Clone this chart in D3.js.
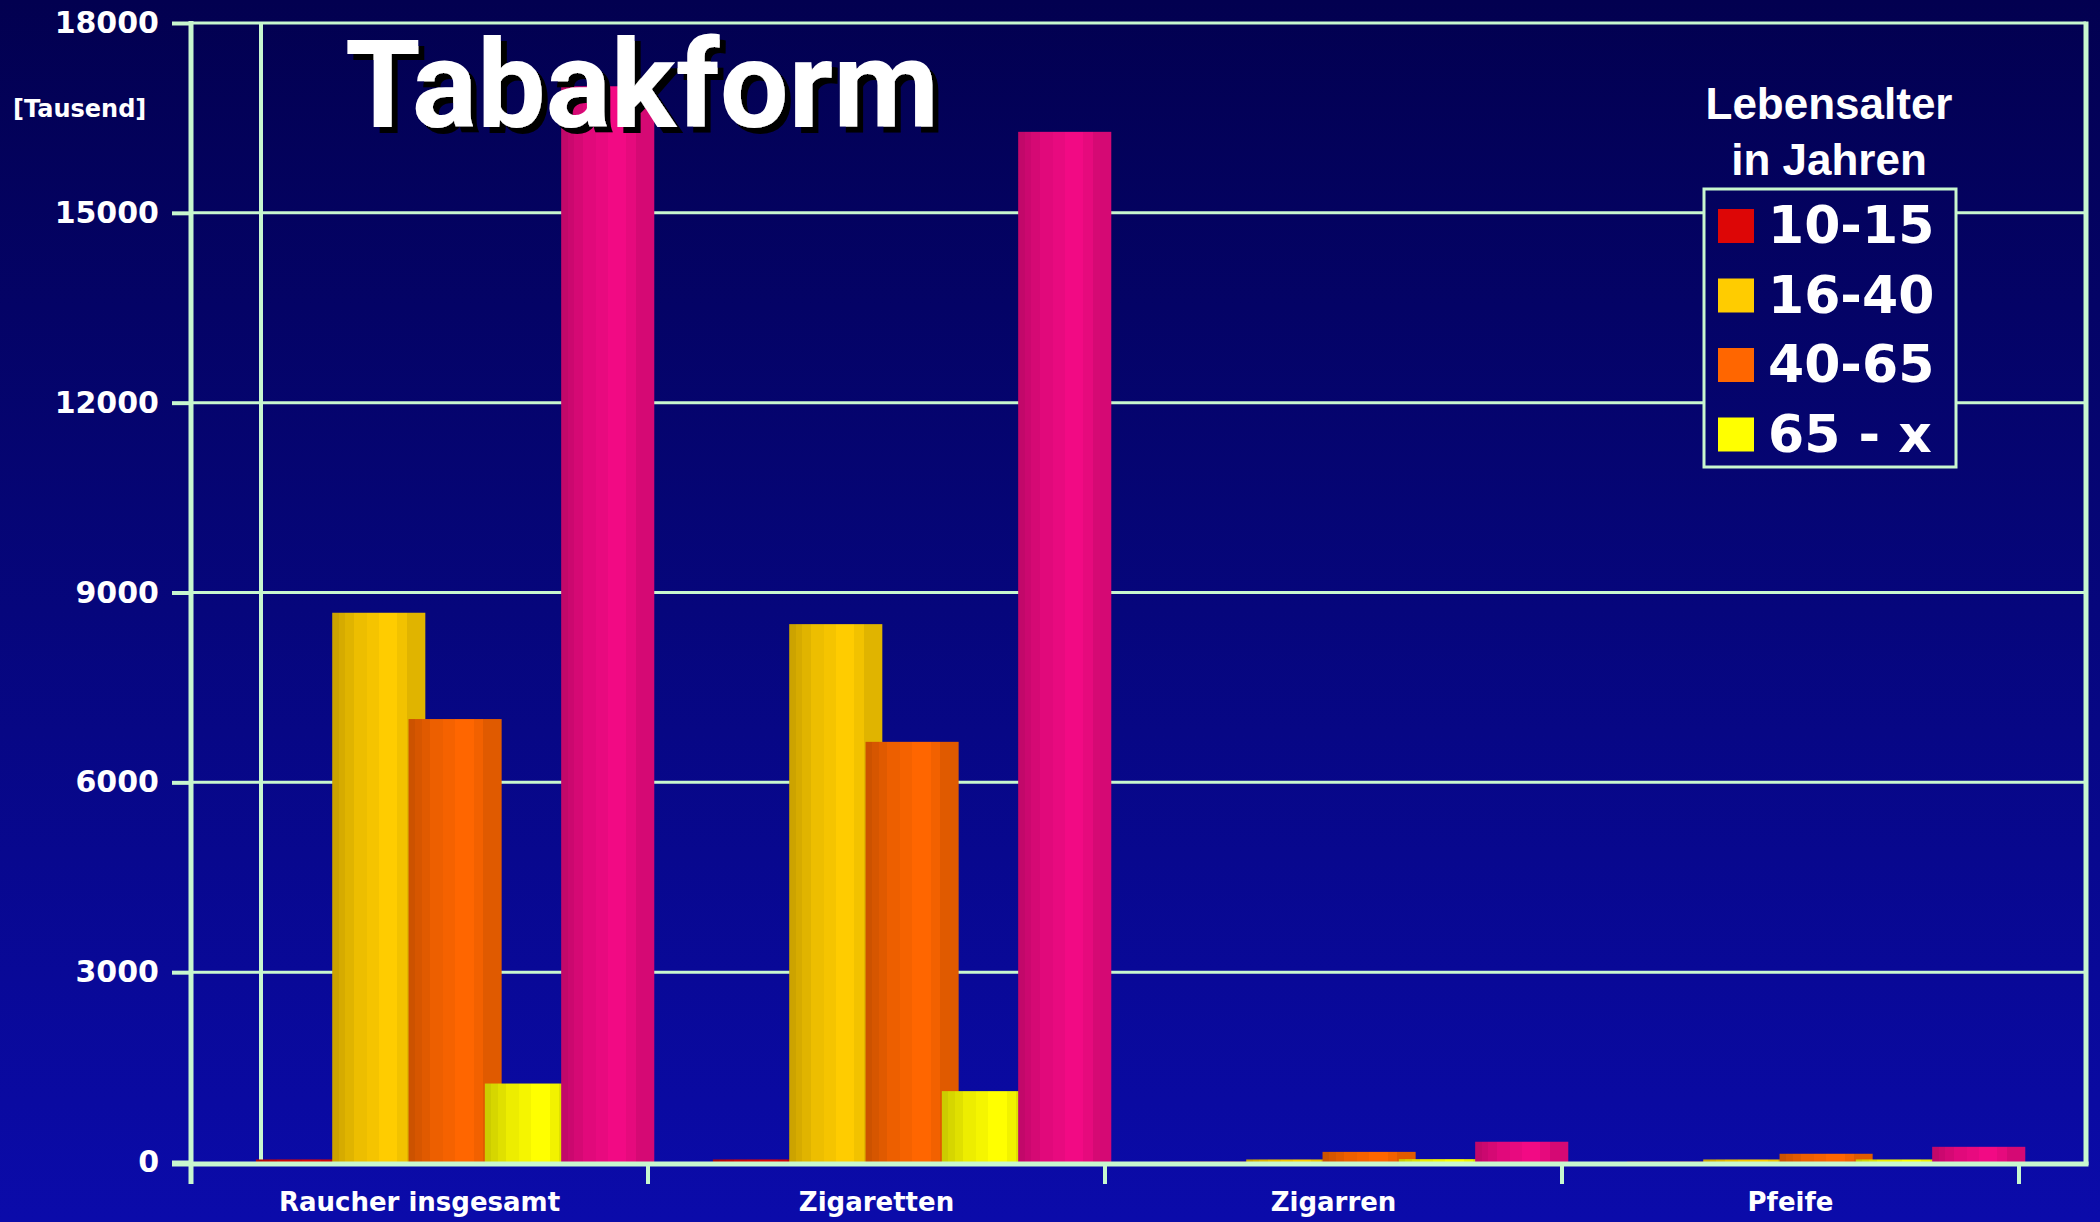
<!DOCTYPE html>
<html>
<head>
<meta charset="utf-8">
<script src="https://cdn.jsdelivr.net/npm/d3@7"></script>
<style>
  body { margin: 0; background: #020050; }
  svg { display: block; }
</style>
</head>
<body>
<svg></svg>
<script>
// Tabakform - Raucher nach Lebensalter [Tausend]
var categories = ["Raucher insgesamt", "Zigaretten", "Zigarren", "Pfeife"];
var seriesNames = ["10-15", "16-40", "40-65", "65 - x", "gesamt"];
var v_10_15  = [40, 40, 5, 5];
var v_16_40  = [8680, 8500, 40, 40];
var v_40_65  = [7000, 6640, 160, 130];
var v_65_x   = [1240, 1120, 45, 40];
var v_gesamt = [17000, 16280, 320, 240];
var seriesColors = ["#dd0606", "#ffcc00", "#ff6600", "#ffff00", "#f20a84"];
var legendNames = ["10-15", "16-40", "40-65", "65 - x"];
var yTicks = [0, 3000, 6000, 9000, 12000, 15000, 18000];

var series = [v_10_15, v_16_40, v_40_65, v_65_x, v_gesamt];

var width = 2100,
    height = 1222;

var lineCol = "#c8f7cf";

var svg = d3.select("svg")
    .attr("width", width)
    .attr("height", height);

var defs = svg.append("defs");

// background gradient, also reused for the legend box
var bg = defs.append("linearGradient")
    .attr("id", "bg")
    .attr("gradientUnits", "userSpaceOnUse")
    .attr("x1", 0).attr("y1", 0).attr("x2", 0).attr("y2", height);
bg.append("stop").attr("offset", 0).attr("stop-color", "#020050");
bg.append("stop").attr("offset", 0.5).attr("stop-color", "#06067c");
bg.append("stop").attr("offset", 1).attr("stop-color", "#0b0baa");

// drop shadow for the title
defs.append("filter")
    .attr("id", "shadow")
    .attr("x", "-10%").attr("y", "-10%").attr("width", "130%").attr("height", "130%")
  .append("feDropShadow")
    .attr("dx", 6).attr("dy", 6)
    .attr("stdDeviation", 0)
    .attr("flood-color", "#000")
    .attr("flood-opacity", 1);

// cylinder shading, banded like the original
var bands = [[0, .07, .80], [.07, .14, .84], [.14, .23, .88], [.23, .37, .93],
             [.37, .5, .96], [.5, .7, 1], [.7, .8, .95], [.8, 1, .88]];
seriesColors.forEach(function(c, i) {
  var g = defs.append("linearGradient").attr("id", "cyl" + i)
      .attr("x1", 0).attr("x2", 1).attr("y1", 0).attr("y2", 0);
  bands.forEach(function(b) {
    var col = d3.interpolateRgb("#000", c)(b[2]);
    g.append("stop").attr("offset", b[0]).attr("stop-color", col);
    g.append("stop").attr("offset", b[1]).attr("stop-color", col);
  });
});

svg.append("rect")
    .attr("width", width).attr("height", height)
    .attr("fill", "url(#bg)");

var x0 = d3.scaleBand()
    .domain(categories)
    .range([191, 2019]);

var bw = x0.bandwidth();

var x1 = d3.scaleBand()
    .domain(seriesNames)
    .range([bw * 0.142, bw * (0.142 + 5 * 0.167)]);

var barW = x1.step() * 1.22;

var y = d3.scaleLinear()
    .domain([0, 18000])
    .range([1162, 23]);

var right = 2086;

// gridlines
svg.append("g").selectAll("line")
    .data(yTicks.filter(function(d) { return d > 0; }))
    .enter().append("line")
      .attr("x1", 191).attr("x2", right)
      .attr("y1", function(d) { return y(d); })
      .attr("y2", function(d) { return y(d); })
      .attr("stroke", lineCol)
      .attr("stroke-width", 3);

// back wall edge + right border
svg.append("line")
    .attr("x1", 261).attr("x2", 261).attr("y1", y(18000)).attr("y2", 1166)
    .attr("stroke", lineCol).attr("stroke-width", 4);
svg.append("line")
    .attr("x1", right).attr("x2", right).attr("y1", y(18000) - 1.5).attr("y2", 1165)
    .attr("stroke", lineCol).attr("stroke-width", 5);

// bars
var gb = svg.append("g");
series.forEach(function(vals, i) {
  gb.append("g").selectAll("rect")
      .data(vals)
      .enter().append("rect")
        .attr("x", function(d, j) { return x0(categories[j]) + x1(seriesNames[i]); })
        .attr("y", function(d) { return y(d); })
        .attr("width", barW)
        .attr("height", function(d) { return y(0) - y(d); })
        .attr("fill", "url(#cyl" + i + ")");
});

// y axis
var yAxis = d3.axisLeft(y)
    .tickValues(yTicks)
    .tickSize(19)
    .tickPadding(13)
    .tickFormat(d3.format("d"));

var gy = svg.append("g")
    .attr("transform", "translate(191,0)")
    .call(yAxis);
gy.select(".domain").remove();
gy.selectAll(".tick line").attr("stroke", lineCol).attr("stroke-width", 4);
gy.selectAll(".tick text")
    .attr("fill", "#fff")
    .attr("font-family", "DejaVu Sans")
    .attr("font-weight", "bold")
    .attr("font-size", 30);

svg.append("line")
    .attr("x1", 191).attr("x2", 191).attr("y1", y(18000) - 2).attr("y2", 1184)
    .attr("stroke", lineCol).attr("stroke-width", 5);

// zero line + category ticks
svg.append("line")
    .attr("x1", 172).attr("x2", right + 2.5).attr("y1", y(0) + 2).attr("y2", y(0) + 2)
    .attr("stroke", lineCol).attr("stroke-width", 5);

var bounds = categories.map(function(c) { return x0(c); }).concat([x0.range()[1]]);
svg.append("g").selectAll("line")
    .data(bounds.slice(1))
    .enter().append("line")
      .attr("x1", function(d) { return d; }).attr("x2", function(d) { return d; })
      .attr("y1", y(0)).attr("y2", 1184)
      .attr("stroke", lineCol).attr("stroke-width", 4);

svg.append("g").selectAll("text")
    .data(categories)
    .enter().append("text")
      .attr("x", function(d) { return x0(d) + bw / 2; })
      .attr("y", 1211)
      .attr("text-anchor", "middle")
      .attr("fill", "#fff")
      .attr("font-family", "DejaVu Sans")
      .attr("font-weight", "bold")
      .attr("font-size", 26)
      .text(function(d) { return d; });

svg.append("text")
    .attr("x", 13).attr("y", 117)
    .attr("fill", "#fff")
    .attr("font-family", "DejaVu Sans")
    .attr("font-weight", "bold")
    .attr("font-size", 24)
    .text("[Tausend]");

// title
svg.append("text")
    .attr("x", 345).attr("y", 127)
    .attr("fill", "#fff")
    .attr("filter", "url(#shadow)")
    .attr("font-family", "Roboto")
    .attr("font-weight", "bold")
    .attr("font-size", 122)
    .text("Tabakform");

// legend
var lg = svg.append("g");
lg.append("text")
    .attr("x", 1829).attr("y", 119)
    .attr("text-anchor", "middle")
    .attr("fill", "#fff")
    .attr("font-family", "Liberation Sans")
    .attr("font-weight", "bold")
    .attr("font-size", 44)
    .text("Lebensalter");
lg.append("text")
    .attr("x", 1829).attr("y", 175)
    .attr("text-anchor", "middle")
    .attr("fill", "#fff")
    .attr("font-family", "Liberation Sans")
    .attr("font-weight", "bold")
    .attr("font-size", 44)
    .text("in Jahren");

lg.append("rect")
    .attr("x", 1704).attr("y", 189)
    .attr("width", 252).attr("height", 278)
    .attr("fill", "url(#bg)")
    .attr("stroke", lineCol)
    .attr("stroke-width", 3);

var items = lg.selectAll(".item")
    .data(legendNames)
    .enter().append("g")
      .attr("class", "item")
      .attr("transform", function(d, i) { return "translate(0," + (i * 69.5) + ")"; });

items.append("rect")
    .attr("x", 1718).attr("y", 209)
    .attr("width", 36).attr("height", 34)
    .attr("fill", function(d, i) { return seriesColors[i]; });

items.append("text")
    .attr("x", 1768).attr("y", 243)
    .attr("fill", "#fff")
    .attr("font-family", "DejaVu Sans")
    .attr("font-weight", "bold")
    .attr("font-size", 52)
    .text(function(d) { return d; });
</script>
</body>
</html>
